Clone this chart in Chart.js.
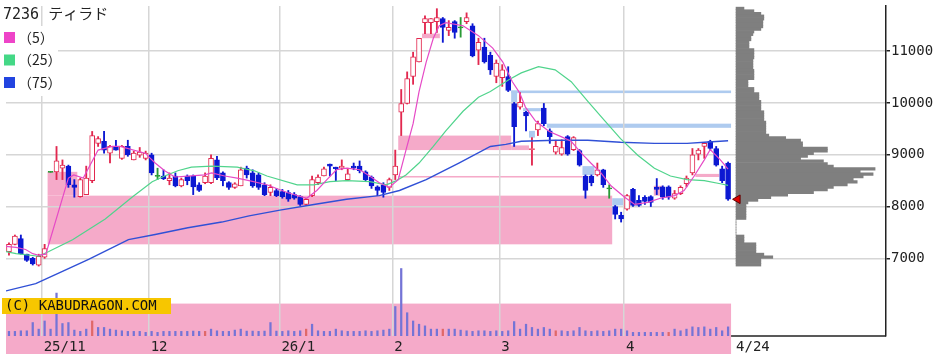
<!DOCTYPE html>
<html>
<head>
<meta charset="utf-8">
<script src="https://cdn.jsdelivr.net/npm/chart.js@4"></script>
<style>
  html, body { margin: 0; padding: 0; background: #fff; }
  #wrap { width: 950px; height: 361px; position: relative; }
</style>
</head>
<body>
<div id="wrap"><canvas id="chart"></canvas></div>
<script>
// ---- data (7236 daily, 2025/10/24 - 2026/4/24) ----
const title = "7236 ティラド";
const monthLabels = ["25/11", "12", "26/1", "2", "3", "4", "4/24"];
const monthTickIdx = [5.5, 23.5, 45.5, 64.5, 82.5, 103.5, 122];
const priceTicks = [7000, 8000, 9000, 10000, 11000];

const open = [7130,7270,7380,7080,7000,6870,7020,8670,8670,8740,
  8780,8420,8190,8230,8500,9220,9260,9030,9160,8930,
  9160,8900,8990,8930,9000,8590,8590,8500,8590,8400,
  8590,8590,8420,8460,8460,8900,8650,8460,8370,8400,
  8740,8650,8610,8420,8270,8310,8290,8270,8230,8190,
  8040,8210,8460,8590,8820,8760,8740,8520,8780,8780,
  8670,8570,8380,8420,8370,8610,9820,9990,10510,10790,
  11550,11550,11570,11630,11400,11570,11460,11570,11490,11020,
  11080,10920,10510,10490,10510,9990,9920,9820,9100,9480,
  9900,9460,9050,9010,9350,9100,9080,8590,8590,8610,
  8710,8350,8000,7830,7950,8330,8120,8180,8190,8370,
  8380,8380,8160,8250,8440,8650,9010,9160,9260,9120,
  8730,8840];
const high = [7300,7450,7450,7080,7020,7080,7270,8680,9160,8900,
  8800,8520,8550,8780,9450,9350,9450,9180,9280,9180,
  9280,9070,9140,9070,9030,8740,8710,8650,8650,8550,
  8610,8610,8460,8650,9000,8970,8670,8480,8460,8760,
  8780,8710,8650,8460,8420,8350,8330,8310,8270,8210,
  8160,8590,8610,8760,8820,8760,8900,8740,8840,8880,
  8690,8590,8400,8460,8550,9090,10260,10600,10980,11250,
  11680,11630,11820,11650,11590,11590,11650,11740,11530,11250,
  11250,10980,10830,10740,10700,10010,10200,9840,9330,9650,
  9990,9500,9280,9290,9370,9350,9100,8610,8610,8840,
  8720,8420,8020,7890,8230,8350,8210,8210,8210,8540,
  8400,8400,8310,8400,8590,9120,9120,9240,9280,9160,
  8780,8860];
const low = [7060,7260,7080,6940,6870,6850,7000,8660,8520,8520,
  8370,8180,8180,8230,8460,9160,9030,8840,9090,8910,
  8970,8900,8950,8900,8610,8520,8520,8420,8380,8380,
  8420,8230,8290,8440,8440,8520,8400,8330,8350,8400,
  8550,8370,8330,8210,8210,8190,8160,8100,8140,8020,
  8020,8190,8420,8590,8590,8500,8710,8500,8710,8650,
  8500,8350,8210,8180,8310,8520,9370,9980,10360,10790,
  11340,11340,11360,11170,11300,11250,11270,11530,10890,10740,
  10770,10550,10390,10320,10220,9160,9880,9460,8800,9370,
  9560,9220,9010,8990,8990,9080,8780,8160,8400,8590,
  8370,8160,7760,7700,7930,8000,8000,8040,8000,8230,
  8140,8140,8140,8230,8380,8610,8900,8930,9090,8780,
  8460,8120];
const close = [7270,7430,7090,6960,6890,7040,7190,8670,8880,8800,
  8420,8370,8520,8550,9370,9310,9090,9160,9090,9160,
  9000,9030,9050,9030,8650,8590,8540,8550,8400,8520,
  8500,8380,8310,8590,8930,8550,8500,8370,8440,8710,
  8610,8400,8370,8230,8370,8210,8190,8140,8160,8040,
  8140,8520,8570,8730,8780,8730,8780,8630,8740,8690,
  8520,8400,8310,8270,8520,8780,9990,10470,10890,11250,
  11630,11630,11650,11460,11460,11360,11460,11650,10910,11170,
  10790,10640,10770,10640,10240,9540,10010,9750,9120,9600,
  9600,9350,9160,9140,9010,9330,8800,8310,8460,8710,
  8420,8350,7850,7760,8210,8020,8020,8100,8080,8330,
  8180,8180,8250,8370,8550,9000,9090,9220,9120,8800,
  8500,8140];
// volume, thousand shares
const volume = [47,47,53,53,137,70,153,70,437,127,
  137,60,47,70,153,87,87,70,60,53,
  47,47,47,37,47,37,47,47,47,47,
  47,50,47,47,70,53,47,47,60,70,
  50,50,47,50,137,50,47,53,47,53,
  70,120,53,47,47,70,53,47,47,47,
  53,47,53,60,70,300,687,237,153,120,
  103,70,70,70,70,70,60,53,47,53,
  53,47,53,47,53,147,70,120,87,70,
  87,70,53,53,47,53,87,53,47,53,
  47,53,70,70,53,37,37,37,37,37,
  37,37,70,53,70,93,87,93,70,87,
  53,93];
const redVolDays = [14, 33, 50, 73, 92, 111];

// moving averages (candle index, price)
const ma5Idx = [-0.5,1.2,2.8,4.0,5.0,6.2,10.0,10.9,12.5,15.0,17.4,18.7,22.9,24.6,26.2,27.9,30.7,32.9,34.1,36.3,38.4,40.4,43.4,46.8,50.1,51.8,53.5,55.1,56.8,59.0,60.7,62.3,64.0,65.5,66.8,68.0,69.0,70.2,71.4,72.4,73.5,76.4,79.0,81.4,83.1,84.7,85.9,86.9,88.6,90.9,92.9,94.6,96.3,97.9,99.6,101.3,103.6,105.3,107.5,109.6,112.0,113.6,115.3,117.0,118.0,119.7,121.0];
const ma5Val = [7230,7210,7170,7090,7060,7080,8550,8610,8550,9090,9160,9160,9030,8840,8690,8570,8590,8610,8650,8590,8550,8500,8420,8270,8160,8310,8520,8710,8740,8710,8590,8460,8370,8520,9090,9600,10220,10790,11250,11490,11550,11490,11300,11060,10790,10410,10200,9920,9650,9450,9350,9260,9030,8840,8650,8400,8180,8040,8080,8160,8210,8310,8590,8900,9100,8900,8720];
const ma25Idx = [-0.5,1.2,5.0,6.7,10.7,16.2,20.7,24.1,26.2,28.4,30.7,34.1,38.4,41.3,43.4,48.5,51.3,54.0,56.8,60.7,63.5,65.2,66.8,69.0,71.4,73.5,76.4,79.0,81.0,84.1,86.2,89.1,91.9,94.6,97.4,100.3,102.9,105.8,108.6,111.3,114.1,117.0,119.7,121.0];
const ma25Val = [7130,7090,7040,7130,7360,7760,8180,8480,8590,8690,8760,8780,8760,8690,8590,8420,8420,8480,8500,8480,8420,8500,8610,8840,9160,9460,9840,10110,10220,10450,10580,10700,10640,10410,10030,9650,9310,8990,8740,8590,8520,8500,8440,8410];
const ma75Idx = [-0.5,4.5,9.0,13.4,20.1,24.6,30.1,35.8,40.4,45.6,51.3,56.8,62.3,65.7,70.2,75.7,81.0,83.6,86.2,91.9,97.4,102.9,108.6,114.1,117.0,121.0];
const ma75Val = [6370,6510,6750,6980,7360,7460,7590,7700,7820,7930,8040,8140,8210,8310,8520,8840,9160,9200,9260,9280,9280,9240,9220,9220,9240,9270];

// volume by price (50-yen bin centre, relative volume)
const profPrice = [11825,11775,11725,11675,11625,11575,11525,11475,11425,11375,
  11325,11275,11225,11175,11125,11075,11025,10975,10925,10875,
  10825,10775,10725,10675,10625,10575,10525,10475,10425,10375,
  10325,10275,10225,10175,10125,10075,10025,9975,9925,9875,
  9825,9775,9725,9675,9625,9575,9525,9475,9425,9375,
  9325,9275,9225,9175,9125,9075,9025,8975,8925,8875,
  8825,8775,8725,8675,8625,8575,8525,8475,8425,8375,
  8325,8275,8225,8175,8125,8075,8025,7975,7925,7875,
  7825,7775,7725,7675,7625,7575,7525,7475,7425,7375,
  7325,7275,7225,7175,7125,7075,7025,6975,6925,6875];
const profVol = [8,18,25,28,28,27,27,27,25,18,
  17,15,15,13,13,13,18,18,18,18,
  17,17,17,17,18,18,18,18,12,12,
  12,18,18,23,23,23,25,25,25,25,
  28,28,28,28,30,30,30,30,30,33,
  50,65,67,67,92,92,78,72,65,88,
  92,98,140,125,138,128,118,122,112,98,
  92,78,52,35,22,12,10,10,10,10,
  10,10,0,0,0,0,0,0,8,8,
  8,20,20,20,20,28,37,25,25,25];

// open price gaps: [from index, to index, low price, high price]
const pinkZones = [[6.5,11.5,8210,8670],[6.5,101.5,7270,8210],[65.5,84.5,9090,9370],[84.5,87.5,9090,9180],
  [65.5,96.5,8560,8590],[69.5,72.5,11250,11340],[108.5,110,8210,8400],[115.5,119.5,8570,8630]];
const blueZones = [[84.5,121.5,10190,10240],[84.5,85.5,10010,10240],[86.5,89.5,9840,9900],[87.5,88.5,9330,9460],
  [90.5,121.5,9520,9600],[96.5,98.5,8610,8780],[101.5,103.5,8020,8160]];

const legendItems = [
  { label: "（5）", color: "#ee44c8" },
  { label: "（25）", color: "#44d886" },
  { label: "（75）", color: "#2244e0" }
];

// ---- styling ----
const UP = "#e2284f", DOWN = "#0c18d2", FLAT = "#2a9a36";
const PINK = "#f5aac9", BLUE = "#aecbef", GRID = "#d6d6d6", INK = "#222";
const n = close.length;
const volPanelTop = 330;

Chart.defaults.font.family = '"DejaVu Sans Mono", monospace';
Chart.defaults.font.size = 14;

const candleColor = i => close[i] > open[i] ? UP : close[i] < open[i] ? DOWN : FLAT;
const pts = (xs, ys) => xs.map((x, i) => ({ x, y: ys[i] }));

const decor = {
  id: "decor",
  beforeDraw(chart) {
    const { ctx, chartArea: a, scales: { x, y, yv } } = chart;
    ctx.save();
    const bandR = x.getPixelForValue(n - 0.5);
    const bandTop = yv.getPixelForValue(volPanelTop);
    ctx.fillStyle = PINK;
    ctx.fillRect(a.left, bandTop, bandR - a.left, a.bottom + 18 - bandTop);
    const zone = (z, col) => {
      const x0 = x.getPixelForValue(z[0]), x1 = x.getPixelForValue(z[1]);
      const y0 = y.getPixelForValue(z[3]), y1 = y.getPixelForValue(z[2]);
      ctx.fillStyle = col;
      ctx.fillRect(x0, y0, x1 - x0, Math.max(1.5, y1 - y0));
    };
    pinkZones.forEach(z => zone(z, PINK));
    blueZones.forEach(z => zone(z, BLUE));
    ctx.restore();
  },
  afterDraw(chart) {
    const { ctx, chartArea: a, scales: { x } } = chart;
    ctx.save();
    // bottom axis only right of the volume panel
    ctx.strokeStyle = INK;
    ctx.lineWidth = 1.5;
    ctx.beginPath();
    ctx.moveTo(x.getPixelForValue(n - 0.5), a.bottom);
    ctx.lineTo(a.right, a.bottom);
    ctx.stroke();

    // title and legend
    ctx.textBaseline = "middle";
    ctx.textAlign = "left";
    ctx.fillStyle = INK;
    ctx.font = '15px "DejaVu Sans Mono", "Noto Sans CJK JP"';
    ctx.fillText(title, 3, 15);
    ctx.fillStyle = "#fff";
    ctx.fillRect(0, 26, 58, 70);
    legendItems.forEach((it, k) => {
      const cy = 37.5 + k * 22.5;
      ctx.fillStyle = it.color;
      ctx.fillRect(4, cy - 5.5, 11, 11);
      ctx.fillStyle = INK;
      ctx.font = '14px "Noto Sans CJK JP"';
      ctx.fillText(it.label, 18, cy);
    });

    // copyright tag
    ctx.fillStyle = "#f7c600";
    ctx.fillRect(2, 298, 169, 16);
    ctx.fillStyle = "#111";
    ctx.font = '14px "DejaVu Sans Mono"';
    ctx.fillText("(C) KABUDRAGON.COM", 5, 306.5);
    ctx.restore();
  }
};

const barBase = { grouped: false, barPercentage: 1, categoryPercentage: 1 };

new Chart(document.getElementById("chart"), {
  type: "bar",
  data: {
    datasets: [
      {
        type: "line", order: 0,
        data: [{ x: n + 0.6, y: close[n - 1] }],
        showLine: false, pointStyle: "triangle", rotation: -90, pointRadius: 5,
        pointBackgroundColor: "#e00000", pointBorderColor: "#600000", pointBorderWidth: 1
      },
      { type: "line", order: 1, data: pts(ma5Idx, ma5Val), borderColor: "#e64ac6", borderWidth: 1.2, pointRadius: 0 },
      { type: "line", order: 2, data: pts(ma25Idx, ma25Val), borderColor: "#50d48c", borderWidth: 1.2, pointRadius: 0 },
      { type: "line", order: 3, data: pts(ma75Idx, ma75Val), borderColor: "#3050d6", borderWidth: 1.4, pointRadius: 0 },
      {
        ...barBase, order: 4, maxBarThickness: 5,
        data: open.map((o, i) => ({ x: i, y: o === close[i] ? [o - 10, o + 10] : [o, close[i]] })),
        backgroundColor: open.map((o, i) => close[i] > o ? "#ffffff" : candleColor(i)),
        borderColor: open.map((o, i) => candleColor(i)),
        borderWidth: 1, borderSkipped: false
      },
      {
        ...barBase, order: 5, maxBarThickness: 1.2,
        data: low.map((l, i) => ({ x: i, y: [l, high[i]] })),
        backgroundColor: low.map((l, i) => candleColor(i))
      },
      {
        ...barBase, order: 6, maxBarThickness: 1.6, yAxisID: "yv",
        data: volume.map((v, i) => ({ x: i, y: v })),
        backgroundColor: volume.map((v, i) => redVolDays.includes(i) ? "#e06868" : "#7474d6")
      },
      {
        ...barBase, order: 7, maxBarThickness: 2.8, indexAxis: "y", xAxisID: "xp", yAxisID: "yp",
        data: profPrice.map((p, i) => ({ x: profVol[i], y: p })),
        backgroundColor: "#7f7f7f"
      }
    ]
  },
  options: {
    responsive: true,
    maintainAspectRatio: false,
    animation: false,
    events: [],
    layout: { padding: 0 },
    plugins: { legend: { display: false }, tooltip: { enabled: false } },
    scales: {
      x: {
        type: "linear", min: -0.5, max: -0.5 + n * 886 / 730, offset: false,
        grid: { offset: false, color: c => c.index === monthTickIdx.length - 1 ? "rgba(0,0,0,0)" : GRID, lineWidth: 1.5, drawTicks: false },
        border: { display: false },
        ticks: {
          autoSkip: false, maxRotation: 0, align: "start", labelOffset: 2, padding: 3, color: INK,
          callback: (v, i) => monthLabels[i]
        },
        afterBuildTicks: s => { s.ticks = monthTickIdx.map(v => ({ value: v })); },
        afterFit: s => { s.height = 25; s.paddingLeft = 0; s.paddingRight = 0; }
      },
      y: {
        type: "linear", position: "right", min: 5500, max: 11872, offset: false,
        grid: { offset: false, color: GRID, lineWidth: 1.5, tickLength: 4, tickColor: INK },
        border: { display: true, color: INK, width: 1.5 },
        ticks: { padding: 1, color: INK, callback: v => String(v) },
        afterBuildTicks: s => { s.ticks = priceTicks.map(v => ({ value: v })); },
        afterFit: s => { s.width = 64; s.paddingTop = 0; s.paddingBottom = 0; }
      },
      xp: { type: "linear", display: false, min: -735, max: 151, offset: false, grid: { offset: false } },
      yp: { type: "linear", display: false, min: 5500, max: 11872, offset: false, grid: { offset: false } },
      yv: { type: "linear", display: false, min: 0, max: 3360, offset: false, grid: { offset: false } }
    }
  },
  plugins: [decor]
});
</script>
</body>
</html>
